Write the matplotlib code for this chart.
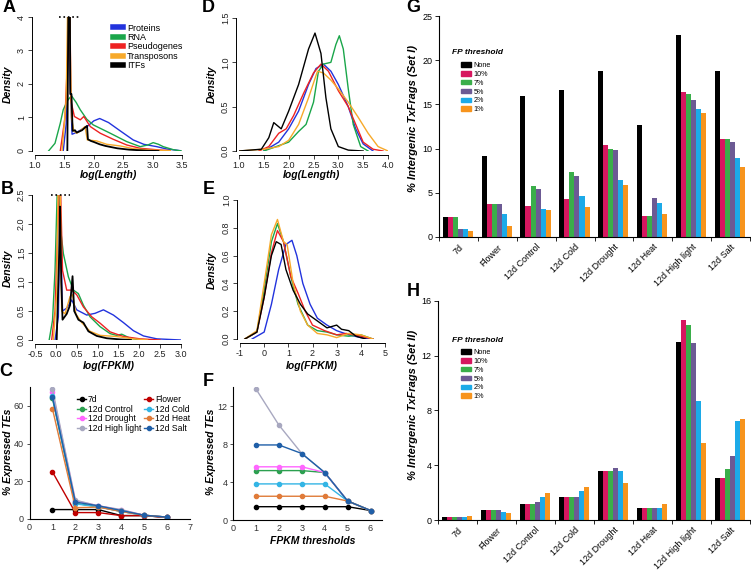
import matplotlib
matplotlib.use('Agg')
import matplotlib.pyplot as plt
from matplotlib.patches import Patch
from matplotlib.lines import Line2D

plt.rcParams['font.family'] = ['Liberation Sans', 'DejaVu Sans']

# ---------------- data ----------------
dens_names = ['Proteins', 'RNA', 'Pseudogenes', 'Transposons', 'ITFs']
dens_colors = ['#2233dd', '#1aa64a', '#ee2222', '#f7a92a', '#000000']

# panel A : log(Length), all transcripts
a_prot_x = [1.48, 1.53, 1.56, 1.58, 1.60, 1.63, 1.70, 1.80, 1.90, 2.00, 2.10, 2.25, 2.45, 2.67, 2.85, 3.07, 3.24, 3.47]
a_prot_y = [0.00, 0.80, 3.00, 5.00, 2.00, 0.50, 0.55, 0.65, 0.75, 0.90, 0.97, 0.85, 0.60, 0.33, 0.20, 0.13, 0.06, 0.01]
a_rna_x = [1.23, 1.34, 1.43, 1.48, 1.55, 1.62, 1.70, 1.77, 1.88, 1.99, 2.28, 2.56, 2.79, 2.92, 3.01, 3.10, 3.18, 3.35, 3.49]
a_rna_y = [0.00, 0.23, 0.83, 1.23, 1.50, 1.65, 1.45, 1.23, 0.95, 0.78, 0.53, 0.28, 0.13, 0.18, 0.25, 0.20, 0.13, 0.04, 0.00]
a_pse_x = [1.43, 1.51, 1.56, 1.585, 1.61, 1.67, 1.77, 1.83, 1.94, 2.11, 2.33, 2.56, 2.79, 3.12, 3.30]
a_pse_y = [0.00, 1.00, 3.00, 6.00, 1.50, 1.03, 0.93, 1.03, 0.73, 0.53, 0.35, 0.18, 0.08, 0.03, 0.01]
a_tra_x = [1.46, 1.53, 1.57, 1.60, 1.62, 1.66, 1.71, 1.78, 1.85, 1.89, 2.05, 2.22, 2.45, 2.67, 2.96, 3.30]
a_tra_y = [0.00, 1.50, 6.00, 3.00, 1.00, 0.60, 0.53, 0.62, 0.73, 0.33, 0.30, 0.20, 0.15, 0.07, 0.03, 0.01]
a_itf_x = [1.55, 1.575, 1.59, 1.60, 1.62, 1.64, 1.68, 1.71, 1.75, 1.80, 1.85, 1.885, 1.90, 1.95, 2.00, 2.10, 2.20, 2.40, 2.60, 2.90, 3.10]
a_itf_y = [0.00, 6.00, 6.00, 1.70, 1.70, 0.60, 0.62, 0.55, 0.58, 0.62, 0.70, 0.75, 0.35, 0.30, 0.27, 0.20, 0.15, 0.08, 0.04, 0.01, 0.00]

# panel B : log(FPKM), all transcripts
b_prot_x = [-0.02, 0.06, 0.10, 0.16, 0.26, 0.38, 0.50, 0.74, 0.94, 1.14, 1.38, 1.62, 1.86, 2.10, 2.42, 3.00]
b_prot_y = [0.00, 0.40, 2.30, 0.50, 0.55, 0.69, 0.52, 0.43, 0.46, 0.52, 0.43, 0.30, 0.16, 0.07, 0.02, 0.00]
b_rna_x = [-0.16, -0.08, -0.02, 0.05, 0.10, 0.18, 0.30, 0.42, 0.54, 0.66, 0.82, 1.06, 1.30, 1.45, 1.58, 1.78, 2.02]
b_rna_y = [0.00, 0.34, 1.20, 3.00, 2.00, 1.49, 1.09, 0.86, 0.80, 0.60, 0.40, 0.23, 0.11, 0.08, 0.10, 0.03, 0.00]
b_pse_x = [-0.10, -0.02, 0.05, 0.10, 0.16, 0.26, 0.38, 0.50, 0.66, 0.86, 1.06, 1.30, 1.62, 2.02, 2.50]
b_pse_y = [0.00, 0.50, 2.00, 3.00, 1.20, 0.86, 0.86, 0.78, 0.57, 0.40, 0.29, 0.14, 0.06, 0.02, 0.00]
b_tra_x = [-0.06, 0.02, 0.06, 0.10, 0.14, 0.22, 0.34, 0.40, 0.48, 0.62, 0.82, 1.06, 1.46, 1.86, 2.20]
b_tra_y = [0.00, 0.80, 3.00, 3.00, 0.50, 0.45, 0.75, 0.78, 0.45, 0.30, 0.15, 0.08, 0.06, 0.02, 0.00]
b_itf_x = [0.02, 0.08, 0.10, 0.13, 0.16, 0.26, 0.34, 0.40, 0.44, 0.54, 0.66, 0.78, 0.98, 1.22, 1.54, 1.80]
b_itf_y = [0.00, 1.50, 2.30, 1.00, 0.35, 0.45, 0.60, 1.10, 0.50, 0.35, 0.30, 0.15, 0.07, 0.03, 0.01, 0.00]

# panel D : log(Length), TEs
d_prot_x = [1.50, 1.80, 2.00, 2.20, 2.40, 2.55, 2.70, 2.85, 3.00, 3.20, 3.35, 3.50, 3.70]
d_prot_y = [0.00, 0.10, 0.25, 0.45, 0.75, 0.93, 0.98, 0.90, 0.75, 0.50, 0.25, 0.08, 0.00]
d_rna_x = [1.50, 2.00, 2.20, 2.35, 2.50, 2.60, 2.70, 2.85, 2.95, 3.02, 3.10, 3.20, 3.30, 3.45, 3.60]
d_rna_y = [0.00, 0.10, 0.22, 0.30, 0.55, 0.90, 0.98, 1.00, 1.20, 1.30, 1.15, 0.70, 0.30, 0.05, 0.00]
d_pse_x = [1.40, 1.60, 1.80, 1.95, 2.10, 2.30, 2.50, 2.65, 2.80, 3.00, 3.20, 3.35, 3.50, 3.70, 3.90]
d_pse_y = [0.00, 0.05, 0.20, 0.25, 0.40, 0.65, 0.88, 0.98, 0.90, 0.68, 0.50, 0.30, 0.10, 0.02, 0.00]
d_tra_x = [1.00, 1.50, 1.80, 2.00, 2.20, 2.40, 2.58, 2.70, 2.85, 3.00, 3.20, 3.40, 3.60, 3.80, 4.00]
d_tra_y = [0.00, 0.02, 0.05, 0.12, 0.30, 0.60, 0.90, 0.88, 0.80, 0.70, 0.55, 0.38, 0.20, 0.05, 0.00]
d_itf_x = [1.00, 1.45, 1.60, 1.70, 1.85, 2.00, 2.20, 2.40, 2.53, 2.65, 2.75, 2.85, 3.00, 3.20, 3.50]
d_itf_y = [0.00, 0.02, 0.15, 0.32, 0.25, 0.45, 0.75, 1.15, 1.33, 1.10, 0.60, 0.25, 0.05, 0.01, 0.00]

# panel E : log(FPKM), TEs
e_prot_x = [-0.5, 0.0, 0.3, 0.6, 0.9, 1.15, 1.35, 1.6, 1.9, 2.2, 2.6, 3.0, 3.5, 4.0, 4.5]
e_prot_y = [0.00, 0.05, 0.25, 0.50, 0.68, 0.71, 0.60, 0.40, 0.25, 0.15, 0.10, 0.06, 0.03, 0.01, 0.00]
e_rna_x = [-0.8, -0.3, 0.0, 0.3, 0.55, 0.8, 1.1, 1.4, 1.8, 2.2, 2.6, 3.0, 3.5, 4.0, 4.5]
e_rna_y = [0.00, 0.05, 0.35, 0.70, 0.83, 0.70, 0.45, 0.25, 0.10, 0.06, 0.05, 0.03, 0.02, 0.03, 0.00]
e_pse_x = [-0.8, -0.3, 0.0, 0.3, 0.55, 0.8, 1.1, 1.4, 1.7, 2.0, 2.5, 3.0, 3.4, 4.0, 4.5]
e_pse_y = [0.00, 0.05, 0.30, 0.62, 0.78, 0.70, 0.45, 0.33, 0.20, 0.10, 0.06, 0.03, 0.04, 0.02, 0.00]
e_tra_x = [-0.8, -0.3, 0.0, 0.3, 0.55, 0.8, 0.95, 1.2, 1.5, 1.8, 2.2, 2.6, 3.0, 3.5, 4.0, 4.5]
e_tra_y = [0.00, 0.06, 0.40, 0.75, 0.86, 0.70, 0.68, 0.40, 0.20, 0.10, 0.04, 0.03, 0.01, 0.04, 0.03, 0.00]
e_itf_x = [-0.8, -0.3, 0.0, 0.3, 0.5, 0.7, 0.9, 1.2, 1.5, 1.8, 2.2, 2.6, 3.0, 3.2, 3.5, 3.8, 4.2]
e_itf_y = [0.00, 0.05, 0.30, 0.60, 0.70, 0.68, 0.50, 0.35, 0.25, 0.18, 0.13, 0.08, 0.10, 0.07, 0.06, 0.02, 0.00]

# panels C and F : % expressed TEs vs FPKM threshold
fpkm = [1, 2, 3, 4, 5, 6]
cond_names = ['7d', '12d Control', '12d Drought', '12d High light',
              'Flower', '12d Cold', '12d Heat', '12d Salt']
cond_colors = ['#000000', '#2ca050', '#ff66ff', '#a8a8c0',
               '#c00000', '#33b5e5', '#e07b39', '#1f5fa8']
c_vals = [
    [5, 5, 5, 1.8, 1.8, 0.8],
    [64, 8.3, 6.5, 4, 2, 1],
    [67.5, 9.7, 7, 4.8, 2, 1],
    [69, 10, 7, 5, 2, 1],
    [25, 3.4, 3.4, 1.8, 1.8, 0.8],
    [65, 8, 6.5, 4, 2, 1],
    [58.5, 6, 6.3, 4, 2, 1],
    [64.5, 9, 7, 4.5, 2, 1],
]
f_vals = [
    [1.4, 1.4, 1.4, 1.4, 1.4, 1.0],
    [5.2, 5.2, 5.2, 5.0, 2.0, 1.0],
    [5.6, 5.6, 5.6, 5.0, 2.0, 1.0],
    [13.8, 10.0, 7.0, 5.0, 2.0, 1.0],
    [1.4, 1.4, 1.4, 1.4, 1.4, 1.0],
    [3.8, 3.8, 3.8, 3.8, 2.0, 1.0],
    [2.5, 2.5, 2.5, 2.5, 2.0, 1.0],
    [7.9, 7.9, 7.0, 5.0, 2.0, 1.0],
]

# panels G and H : % intergenic TxFrags
samples = ['7d', 'Flower', '12d Control', '12d Cold', '12d Drought',
           '12d Heat', '12d High light', '12d Salt']
fp_names = ['None', '10%', '7%', '5%', '2%', '1%']
fp_colors = ['#000000', '#d6175f', '#3aae4a', '#6c5a94', '#1caae8', '#f7941d']
g_vals = [
    [2.3, 9.2, 15.9, 16.6, 18.8, 12.7, 22.8, 18.8],
    [2.3, 3.7, 3.5, 4.3, 10.4, 2.4, 16.4, 11.1],
    [2.3, 3.7, 5.8, 7.4, 10.0, 2.4, 16.2, 11.1],
    [0.9, 3.7, 5.4, 6.9, 9.8, 4.4, 15.5, 10.7],
    [0.9, 2.6, 3.2, 4.6, 6.4, 3.8, 14.5, 8.9],
    [0.7, 1.2, 3.0, 3.4, 5.9, 2.6, 14.0, 7.9],
]
h_vals = [
    [0.2, 0.7, 1.2, 1.7, 3.6, 0.9, 13.0, 3.1],
    [0.2, 0.7, 1.2, 1.7, 3.6, 0.9, 14.6, 3.1],
    [0.2, 0.7, 1.2, 1.7, 3.6, 0.9, 14.2, 3.7],
    [0.2, 0.7, 1.3, 1.7, 3.8, 0.9, 12.9, 4.7],
    [0.2, 0.6, 1.7, 2.1, 3.6, 0.9, 8.7, 7.2],
    [0.3, 0.5, 2.0, 2.4, 2.7, 1.2, 5.6, 7.4],
]

# ---------------- figure ----------------
W, H = 751, 573
fig = plt.figure(figsize=(W / 100, H / 100), dpi=100)


def box(l, t, r, b):
    return [l / W, 1 - b / H, (r - l) / W, (b - t) / H]


def ftext(px, py, s, **kw):
    fig.text(px / W, 1 - py / H, s, **kw)


def r_axes(ax, xt, yt, xfmt, yfmt):
    for s in ['top', 'right']:
        ax.spines[s].set_visible(False)
    ax.spines['bottom'].set_position(('outward', 3))
    ax.spines['left'].set_position(('outward', 2))
    ax.spines['bottom'].set_bounds(xt[0], xt[-1])
    ax.spines['left'].set_bounds(yt[0], yt[-1])
    for s in ['bottom', 'left']:
        ax.spines[s].set_linewidth(0.7)
    ax.set_xticks(xt)
    ax.set_xticklabels([xfmt.format(v) for v in xt])
    ax.set_yticks(yt)
    ax.set_yticklabels([yfmt.format(v) for v in yt], rotation=90, va='center')
    ax.tick_params(length=3, width=0.6, labelsize=6.5, pad=1.5, colors='#222222')


lab_kw = dict(fontsize=7.5, fontweight='bold', style='italic', ha='center', va='center')

# A
axA = fig.add_axes(box(35, 17, 182, 151))
curvesA = [(a_prot_x, a_prot_y), (a_rna_x, a_rna_y), (a_pse_x, a_pse_y),
           (a_tra_x, a_tra_y), (a_itf_x, a_itf_y)]
for (x, y), c in zip(curvesA, dens_colors):
    axA.plot(x, y, color=c, lw=1.0 if c != '#000000' else 1.3)
axA.plot([1.40, 1.78], [4, 4], color='black', ls=':', lw=1.2, clip_on=False)
axA.set_xlim(1.0, 3.5)
axA.set_ylim(0, 4)
r_axes(axA, [1.0, 1.5, 2.0, 2.5, 3.0, 3.5], [0, 1, 2, 3, 4], '{:.1f}', '{:d}')
handles = [Line2D([], [], color=c, lw=4) for c in dens_colors]
axA.legend(handles, dens_names, loc='upper left', bbox_to_anchor=(108 / W, 1 - 19 / H),
           bbox_transform=fig.transFigure, frameon=False, fontsize=6.5, handlelength=1.2,
           handletextpad=0.4, labelspacing=0.05, borderpad=0)
ftext(109, 175, 'log(Length)', **lab_kw)
ftext(8, 84, 'Density', rotation=90, **lab_kw)

# B
axB = fig.add_axes(box(35, 195, 181, 340))
curvesB = [(b_prot_x, b_prot_y), (b_rna_x, b_rna_y), (b_pse_x, b_pse_y),
           (b_tra_x, b_tra_y), (b_itf_x, b_itf_y)]
for (x, y), c in zip(curvesB, dens_colors):
    axB.plot(x, y, color=c, lw=1.0 if c != '#000000' else 1.3)
axB.plot([-0.12, 0.34], [2.5, 2.5], color='black', ls=':', lw=1.2, clip_on=False)
axB.set_xlim(-0.5, 3.0)
axB.set_ylim(0, 2.5)
r_axes(axB, [-0.5, 0.0, 0.5, 1.0, 1.5, 2.0, 2.5, 3.0], [0, 0.5, 1.0, 1.5, 2.0, 2.5], '{:.1f}', '{:.1f}')
ftext(109, 366, 'log(FPKM)', **lab_kw)
ftext(8, 268, 'Density', rotation=90, **lab_kw)

# D
axD = fig.add_axes(box(239, 18, 388, 151))
curvesD = [(d_prot_x, d_prot_y), (d_rna_x, d_rna_y), (d_pse_x, d_pse_y),
           (d_tra_x, d_tra_y), (d_itf_x, d_itf_y)]
for (x, y), c in zip(curvesD, dens_colors):
    axD.plot(x, y, color=c, lw=1.0)
axD.set_xlim(1.0, 4.0)
axD.set_ylim(0, 1.5)
r_axes(axD, [1.0, 1.5, 2.0, 2.5, 3.0, 3.5, 4.0], [0, 0.5, 1.0, 1.5], '{:.1f}', '{:.1f}')
ftext(312, 175, 'log(Length)', **lab_kw)
ftext(212, 84, 'Density', rotation=90, **lab_kw)

# E
axE = fig.add_axes(box(240, 200, 385, 339))
curvesE = [(e_prot_x, e_prot_y), (e_rna_x, e_rna_y), (e_pse_x, e_pse_y),
           (e_tra_x, e_tra_y), (e_itf_x, e_itf_y)]
for (x, y), c in zip(curvesE, dens_colors):
    axE.plot(x, y, color=c, lw=1.0)
axE.set_xlim(-1, 5)
axE.set_ylim(0, 1.0)
r_axes(axE, [-1, 0, 1, 2, 3, 4, 5], [0, 0.2, 0.4, 0.6, 0.8, 1.0], '{:d}', '{:.1f}')
ftext(312, 366, 'log(FPKM)', **lab_kw)
ftext(212, 270, 'Density', rotation=90, **lab_kw)


def excel_axes(ax, yt, xmax):
    for s in ['top', 'right']:
        ax.spines[s].set_visible(False)
    for s in ['bottom', 'left']:
        ax.spines[s].set_linewidth(0.8)
    ax.set_xticks(range(0, int(xmax) + 1))
    ax.set_yticks(yt)
    ax.tick_params(axis='x', length=0, labelsize=6.5, pad=3, colors='#333333')
    ax.tick_params(axis='y', length=2.5, width=0.6, labelsize=6.5, pad=1.5, colors='#333333')


# C
axC = fig.add_axes(box(29.5, 387, 190, 519))
for vals, c in zip(c_vals, cond_colors):
    axC.plot(fpkm, vals, color=c, lw=1.0, marker='o', ms=3)
axC.set_xlim(0, 7)
axC.set_ylim(0, 70)
excel_axes(axC, [0, 20, 40, 60], 7)
handles = [Line2D([], [], color=c, lw=1.0, marker='o', ms=3) for c in cond_colors]
axC.legend(handles, cond_names, loc='upper left', bbox_to_anchor=(73 / W, 1 - 391 / H),
           bbox_transform=fig.transFigure, ncol=2, frameon=False, fontsize=6.2,
           handlelength=1.0, handletextpad=0.2, labelspacing=0.05, columnspacing=0.4, borderpad=0)
ftext(110, 541, 'FPKM thresholds', **lab_kw)
ftext(8, 452, '% Expressed TEs', rotation=90, **lab_kw)

# F
axF = fig.add_axes(box(233, 387, 382, 520))
for vals, c in zip(f_vals, cond_colors):
    if c in ('#c00000',):
        continue
    axF.plot(fpkm, vals, color=c, lw=1.0, marker='o', ms=3)
axF.set_xlim(0, 6.5)
axF.set_ylim(0, 14)
excel_axes(axF, [0, 4, 8, 12], 6)
ftext(313, 541, 'FPKM thresholds', **lab_kw)
ftext(211, 452, '% Expressed TEs', rotation=90, **lab_kw)


def bar_panel(ax, vals, ymax, yt, title_y):
    bw = 0.13
    for j, (row, c) in enumerate(zip(vals, fp_colors)):
        xs = [i + 0.094 + bw * j + bw / 2 for i in range(len(samples))]
        ax.bar(xs, row, width=bw, color=c, edgecolor='none', label=fp_names[j])
    ax.set_xlim(0, len(samples))
    ax.set_ylim(0, ymax)
    for s in ['top', 'right']:
        ax.spines[s].set_visible(False)
    for s in ['bottom', 'left']:
        ax.spines[s].set_linewidth(0.8)
    ax.set_xticks(range(len(samples) + 1), minor=True)
    ax.set_xticks([i + 0.5 for i in range(len(samples))])
    ax.set_xticklabels(samples, rotation=45, ha='right', rotation_mode='anchor')
    ax.tick_params(axis='x', which='major', length=0, labelsize=6.5, pad=4)
    ax.tick_params(axis='x', which='minor', length=3, width=0.6)
    ax.set_yticks(yt)
    ax.tick_params(axis='y', length=3, width=0.6, labelsize=6.5, pad=1.5)
    ftext(452, title_y, 'FP threshold', fontsize=6, fontweight='bold', style='italic',
          ha='left', va='center')
    handles = [Patch(color=c) for c in fp_colors]
    ax.legend(handles, fp_names, loc='upper left', bbox_to_anchor=(457 / W, 1 - (title_y + 5.5) / H),
              bbox_transform=fig.transFigure, frameon=False, fontsize=5.2,
              handlelength=1.5, handleheight=0.55, handletextpad=0.3,
              labelspacing=0.25, borderpad=0)


axG = fig.add_axes(box(439, 16, 750, 237))
bar_panel(axG, g_vals, 25, [0, 5, 10, 15, 20, 25], 53)
ftext(413, 118, '% Intergenic TxFrags (Set I)', rotation=90, **dict(lab_kw, fontsize=8))

axH = fig.add_axes(box(438, 300.7, 750, 520))
bar_panel(axH, h_vals, 16, [0, 4, 8, 12, 16], 340)
ftext(413, 405, '% Intergenic TxFrags (Set II)', rotation=90, **dict(lab_kw, fontsize=8))

# panel letters
for letter, px, py in [('A', 9, 8), ('B', 7, 190), ('C', 6, 372), ('D', 208, 7),
                       ('E', 209, 190), ('F', 208, 382), ('G', 413, 7), ('H', 413, 291)]:
    ftext(px, py, letter, fontsize=13, fontweight='bold', ha='center', va='center')

fig.savefig('out.png', dpi=100)
